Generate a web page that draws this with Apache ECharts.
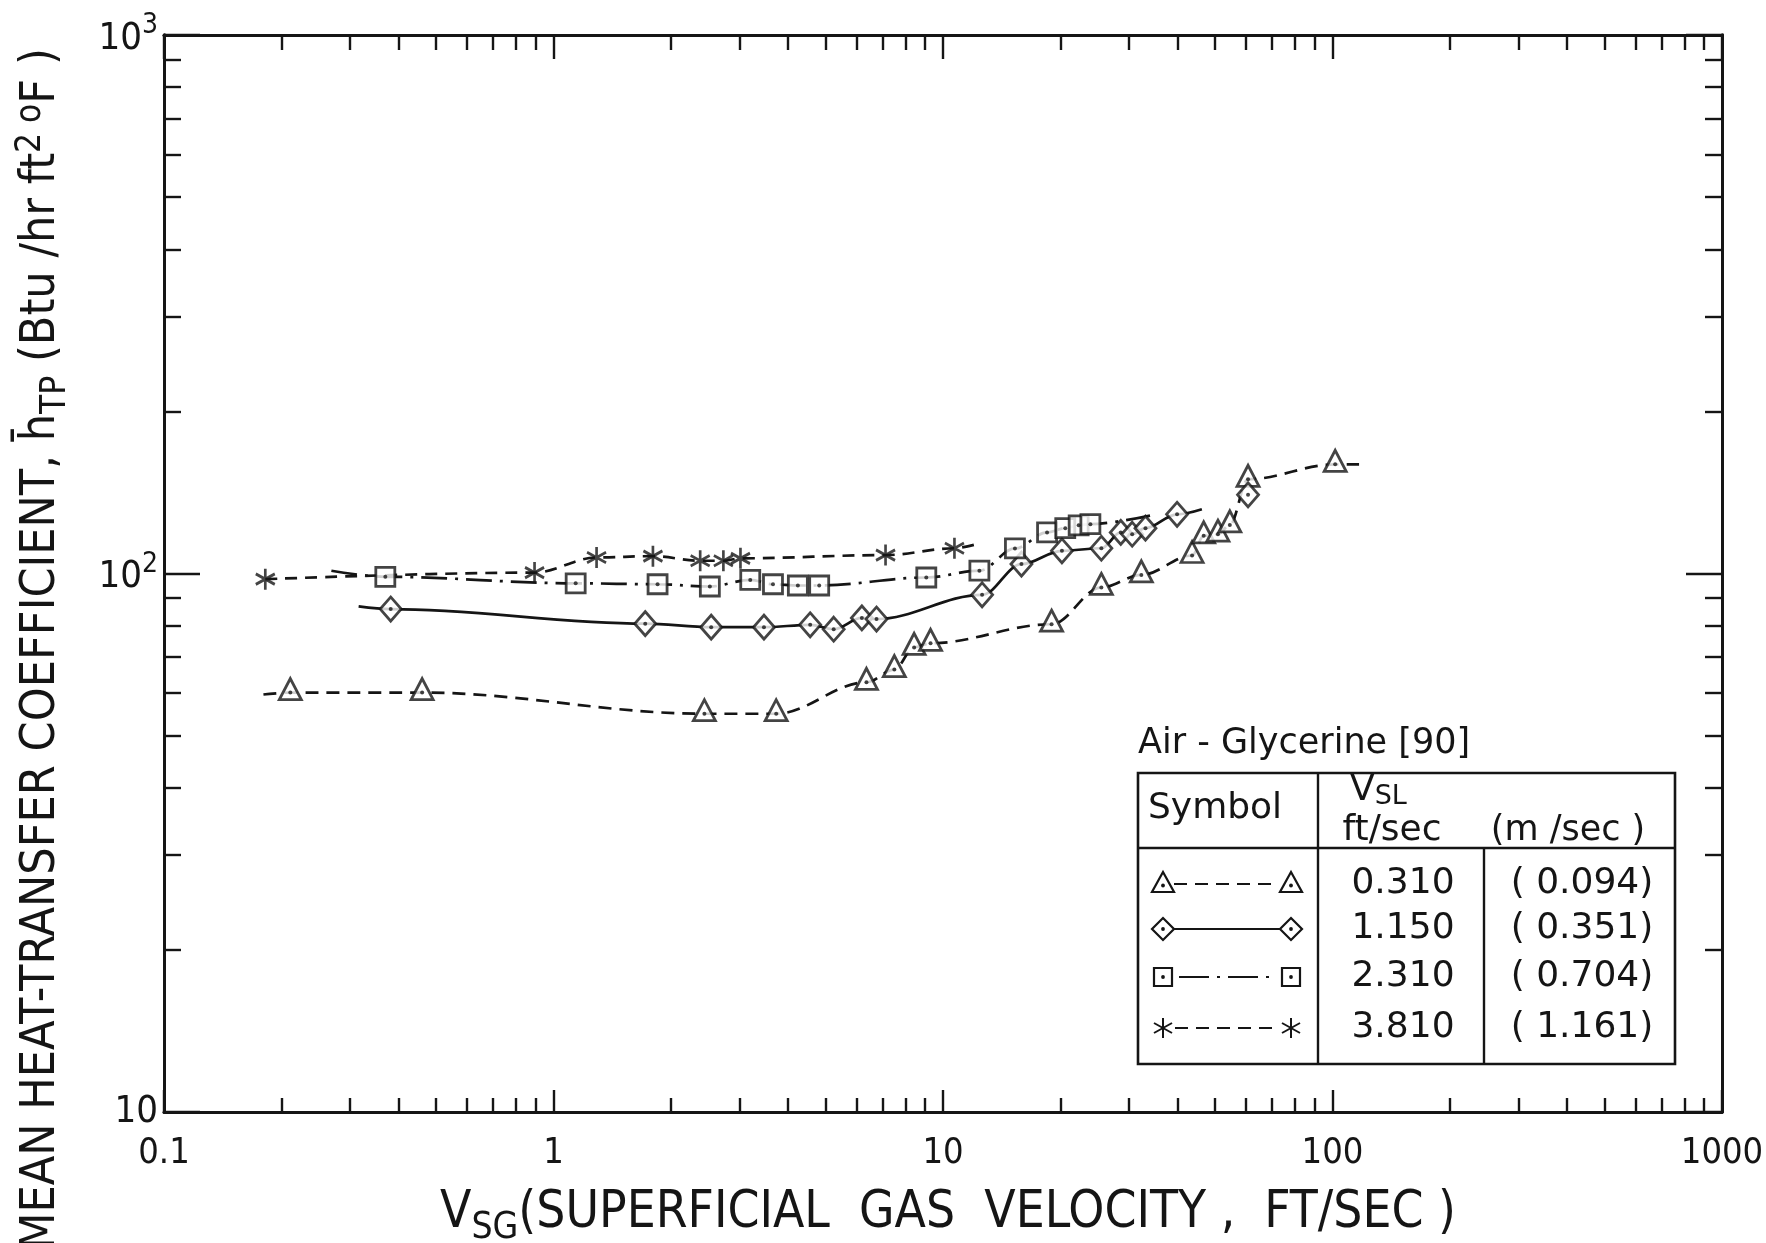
<!DOCTYPE html>
<html><head><meta charset="utf-8">
<script src="https://cdn.jsdelivr.net/npm/echarts@6/dist/echarts.min.js"></script>
<style>html,body{margin:0;padding:0;background:#fff}#c{width:1766px;height:1243px}</style>
</head><body><div id="c"></div>
<script>
// ---------- tick values ----------
const xMajorTicks = [0.1, 1, 10, 100, 1000];
const xMinorTicks = [0.2,0.3,0.4,0.5,0.6,0.7,0.8,0.9, 2,3,4,5,6,7,8,9, 20,30,40,50,60,70,80,90, 200,300,400,500,600,700,800,900];
const xTickLabels = ['0.1', '1', '10', '100', '1000'];
const yMajorTicks = [10, 100, 1000];
const yMinorTicks = [20,30,40,50,60,70,80,90, 200,300,400,500,600,700,800,900];
const yTickLabels = ['{b|10}', '{b|10}{s|2}', '{b|10}{s|3}'];

// ---------- data: [V_SG ft/s, h_TP Btu/hr ft2 F] ----------
const vslTriangle = [[0.211,60.1],[0.460,60.1],[2.44,54.9],[3.73,54.9],[6.36,62.8],[7.50,66.3],[8.43,72.9],[9.29,74.2],[19.0,80.5],[25.5,94.2],[32.3,99.4],[43.6,108.0],[46.7,117.5],[50.8,118.3],[54.5,123.1],[60.7,149.6],[101.6,159.5]];
const vslDiamond = [[0.382,85.9],[1.72,80.7],[2.54,79.5],[3.47,79.5],[4.56,80.3],[5.24,78.8],[6.19,82.7],[6.75,82.3],[12.6,91.3],[15.9,104.1],[20.2,110.2],[25.5,111.4],[28.6,119.2],[30.6,118.3],[33.1,121.4],[39.9,128.8],[60.7,140.0]];
const vslSquare = [[0.370,98.6],[1.14,95.9],[1.85,95.5],[2.52,94.6],[3.20,97.3],[3.66,95.5],[4.24,95.0],[4.81,95.0],[9.06,98.3],[12.4,101.2],[15.3,111.3],[18.5,119.2],[20.6,121.4],[22.3,122.9],[23.9,123.5]];
const vslStar = [[0.182,97.6],[0.894,100.4],[1.29,107.1],[1.80,107.7],[2.38,105.6],[2.73,105.6],[3.02,106.7],[7.12,108.2],[10.7,111.4]];

// ends of the drawn curves (beyond the plotted points) and points the curve skips
const triangleCurveEnds = [[0.180,59.6],[117,159.5]];
const diamondCurveEnds = [[0.316,86.9],[46.2,131.6]];
const squareCurveEnds = [[0.269,101.2],[34.0,128.1]];
const starCurveEnds = [[0.182,97.6],[12.4,113.8]];
const diamondOffCurve = [16];

// ---------- legend table text ----------
const legendTitle = 'Air - Glycerine [90]';
const legendVslFt = ['0.310', '1.150', '2.310', '3.810'];
const legendVslM = ['( 0.094)', '( 0.351)', '( 0.704)', '( 1.161)'];

const ink = '#151515';
const chart = echarts.init(document.getElementById('c'), null, {renderer: 'canvas'});

function curve(points, ends, skip) {
  const pts = points.filter((p, i) => !(skip || []).includes(i));
  const out = [];
  if (ends[0][0] < pts[0][0]) out.push(ends[0]);
  out.push(...pts);
  if (ends[1][0] > pts[pts.length - 1][0]) out.push(ends[1]);
  return out;
}

const labelFont = '"Liberation Sans Narrow","DejaVu Sans Condensed","Liberation Sans",sans-serif';
function xAx(pos, ticks, len, withLabels) {
  return {
    type: 'log', logBase: 10, min: 0.1, max: 1000, position: pos, gridIndex: 0,
    axisLine: {show: true, onZero: false, lineStyle: {color: ink, width: 2.8}},
    axisTick: {show: true, inside: true, length: len, customValues: ticks, lineStyle: {color: ink, width: 2.4}},
    axisLabel: withLabels ? {
      show: true, customValues: xMajorTicks, margin: 24, color: ink, fontSize: 36, fontFamily: labelFont,
      formatter: v => xTickLabels[xMajorTicks.findIndex(t => Math.abs(t - v) / t < 1e-6)] || ''
    } : {show: false},
    splitLine: {show: false}, minorTick: {show: false}, minorSplitLine: {show: false}
  };
}
function yAx(pos, ticks, len, withLabels) {
  return {
    type: 'log', logBase: 10, min: 10, max: 1000, position: pos, gridIndex: 0,
    axisLine: {show: true, onZero: false, lineStyle: {color: ink, width: 2.8}},
    axisTick: {show: true, inside: true, length: len, customValues: ticks, lineStyle: {color: ink, width: 2.4}},
    axisLabel: withLabels ? {
      show: true, customValues: yMajorTicks, margin: 6, color: ink, fontFamily: labelFont,
      formatter: v => yTickLabels[yMajorTicks.findIndex(t => Math.abs(t - v) / t < 1e-6)] || '',
      rich: {
        b: {fontSize: 38, fontFamily: labelFont, color: ink, verticalAlign: 'bottom'},
        s: {fontSize: 28, fontFamily: labelFont, color: ink, verticalAlign: 'bottom', padding: [0, 0, 18, 0]}
      }
    } : {show: false},
    splitLine: {show: false}, minorTick: {show: false}, minorSplitLine: {show: false}
  };
}

const markerStyle = {color: '#fff', borderColor: ink, borderWidth: 2.8};
function lineSeries(data, type) {
  return {type: 'line', xAxisIndex: 0, yAxisIndex: 0, data, symbol: 'none', smooth: 0.35, smoothMonotone: 'x',
    lineStyle: {color: ink, width: 2.7, type}, z: 2, silent: true, animation: false};
}
function markSeries(data, symbol, size, offset) {
  return {type: 'scatter', xAxisIndex: 0, yAxisIndex: 0, data, symbol, symbolSize: size, symbolOffset: offset || [0, 0],
    itemStyle: markerStyle, z: 3, silent: true, animation: false};
}
function dotSeries(data) {
  return {type: 'scatter', xAxisIndex: 0, yAxisIndex: 0, data, symbol: 'circle', symbolSize: 4,
    itemStyle: {color: ink}, z: 4, silent: true, animation: false};
}
const starPath = 'path://M0,-10L0,10M-8.7,-5L8.7,5M-8.7,5L8.7,-5';

// ---------- legend graphics ----------
const tFont = '"DejaVu Sans","Liberation Sans",sans-serif';
const box = {l: 1138, t: 773, r: 1675, b: 1064, c1: 1318, c2: 1484, h: 848};
const rowsY = [884, 929, 977, 1028];
const g = [];
function ln(x1, y1, x2, y2, w, dash) {
  g.push({type: 'line', shape: {x1, y1, x2, y2}, style: {stroke: ink, lineWidth: w || 2.4, lineDash: dash || null}, z: 10});
}
function txt(x, y, text, size, align, rich) {
  g.push({type: 'text', x, y, style: {text, font: size + 'px ' + tFont, fill: ink, align: align || 'center', verticalAlign: 'middle', rich}, z: 10});
}
g.push({type: 'rect', shape: {x: box.l, y: box.t, width: box.r - box.l, height: box.b - box.t}, style: {fill: '#fff', stroke: ink, lineWidth: 2.6}, z: 9});
ln(box.c1, box.t, box.c1, box.b);
ln(box.c2, box.h, box.c2, box.b);
ln(box.l, box.h, box.r, box.h);
txt(box.l, 744, legendTitle, 35, 'left');
txt(1148, 809, 'Symbol', 36, 'left');
txt(1350, 791, '{v|V}{s|SL}', 36, 'left', {v: {fontSize: 36, fontFamily: tFont, fill: ink}, s: {fontSize: 27, fontFamily: tFont, fill: ink, padding: [12, 0, 0, 0]}});
txt(1392, 831, 'ft/sec', 36);
txt(1568, 831, '(m /sec )', 35);
rowsY.forEach((y, i) => { txt(1403, y, legendVslFt[i], 36); txt(1582, y, legendVslM[i], 36); });
// legend samples
const sx1 = 1163, sx2 = 1291;
function tri(x, y) {
  g.push({type: 'polygon', shape: {points: [[x, y - 12], [x - 11, y + 8], [x + 11, y + 8]]}, style: {fill: '#fff', stroke: ink, lineWidth: 2.2}, z: 11});
  g.push({type: 'circle', shape: {cx: x, cy: y + 1.5, r: 1.9}, style: {fill: ink}, z: 12});
}
function dia(x, y) {
  g.push({type: 'polygon', shape: {points: [[x, y - 11], [x + 11, y], [x, y + 11], [x - 11, y]]}, style: {fill: '#fff', stroke: ink, lineWidth: 2.2}, z: 11});
  g.push({type: 'circle', shape: {cx: x, cy: y, r: 1.9}, style: {fill: ink}, z: 12});
}
function sq(x, y) {
  g.push({type: 'rect', shape: {x: x - 9, y: y - 9, width: 18, height: 18}, style: {fill: '#fff', stroke: ink, lineWidth: 2.2}, z: 11});
  g.push({type: 'circle', shape: {cx: x, cy: y, r: 1.9}, style: {fill: ink}, z: 12});
}
function star(x, y) {
  ln(x, y - 10, x, y + 10, 2); ln(x - 9, y - 5, x + 9, y + 5, 2); ln(x - 9, y + 5, x + 9, y - 5, 2);
}
ln(sx1 + 11, rowsY[0], sx2 - 12, rowsY[0], 2.2, [13, 8]); tri(sx1, rowsY[0]); tri(sx2, rowsY[0]);
ln(sx1 + 11, rowsY[1], sx2 - 11, rowsY[1], 2.2); dia(sx1, rowsY[1]); dia(sx2, rowsY[1]);
ln(sx1 + 16, rowsY[2], sx2 - 16, rowsY[2], 2.2, [30, 8, 3, 8]); sq(sx1, rowsY[2]); sq(sx2, rowsY[2]);
ln(sx1 + 12, rowsY[3], sx2 - 12, rowsY[3], 2.2, [13, 8]); star(sx1, rowsY[3]); star(sx2, rowsY[3]);

// axis titles
const titleFont = '"Liberation Sans Narrow","DejaVu Sans Condensed","Liberation Sans",sans-serif';
g.push({type: 'text', x: 948, y: 1214, style: {
  text: '{m|V}{sub|SG}{m|(SUPERFICIAL  GAS  VELOCITY ,  FT/SEC )}', align: 'center', verticalAlign: 'middle', fill: ink,
  rich: {m: {fontSize: 51, fontFamily: titleFont, fill: ink}, sub: {fontSize: 37, fontFamily: titleFont, fill: ink, padding: [29, 0, 0, 0]}}
}, z: 10});
g.push({type: 'text', x: 42, y: 649, rotation: Math.PI / 2, style: {
  text: '{m|MEAN HEAT-TRANSFER COEFFICIENT, h\u0304}{sub|TP}{m| (Btu /hr ft}{sup|2}{sup| o}{m|F )}', align: 'center', verticalAlign: 'middle', fill: ink,
  rich: {m: {fontSize: 48, fontFamily: titleFont, fill: ink}, sub: {fontSize: 35, fontFamily: titleFont, fill: ink, padding: [27, 0, 0, 0]},
         sup: {fontSize: 35, fontFamily: titleFont, fill: ink, padding: [0, 0, 23, 0]}}
}, z: 10});

const option = {
  backgroundColor: '#fff',
  animation: false,
  grid: {left: 164, right: 44, top: 35, bottom: 131, containLabel: false, outerBoundsMode: 'none'},
  xAxis: [xAx('bottom', xMajorTicks, 22, true), xAx('bottom', xMinorTicks, 14, false), xAx('top', xMajorTicks, 24, false), xAx('top', xMinorTicks, 15, false)],
  yAxis: [yAx('left', yMajorTicks, 36, true), yAx('left', yMinorTicks, 17, false), yAx('right', yMajorTicks, 36, false), yAx('right', yMinorTicks, 17, false)],
  series: [
    lineSeries(curve(vslTriangle, triangleCurveEnds), [13, 8]),
    lineSeries(curve(vslDiamond, diamondCurveEnds, diamondOffCurve), 'solid'),
    lineSeries(curve(vslSquare, squareCurveEnds), [26, 8, 3, 8]),
    lineSeries(curve(vslStar, starCurveEnds), [12, 8]),
    markSeries(vslTriangle, 'triangle', [22, 21], [0, -3.5]),
    markSeries(vslDiamond, 'diamond', [21, 24]),
    markSeries(vslSquare, 'rect', [19, 19]),
    markSeries(vslStar, starPath, [19, 21]),
    dotSeries(vslTriangle), dotSeries(vslDiamond), dotSeries(vslSquare)
  ],
  graphic: g
};
chart.setOption(option);
</script></body></html>
